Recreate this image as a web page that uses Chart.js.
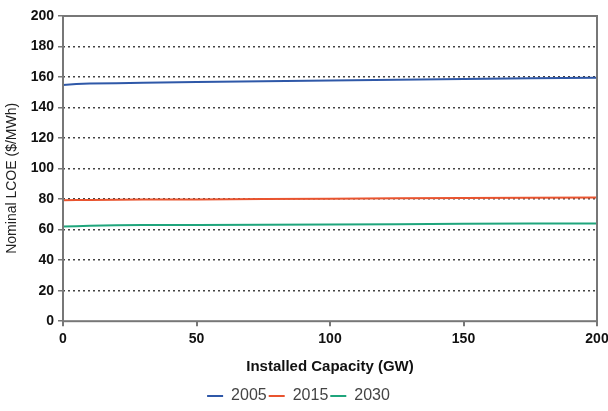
<!DOCTYPE html>
<html>
<head>
<meta charset="utf-8">
<script src="https://cdn.jsdelivr.net/npm/chart.js@4"></script>
<style>
  html, body { margin: 0; padding: 0; background: #fff; }
  #wrap { width: 608px; height: 411px; }
</style>
</head>
<body>
<div id="wrap"><canvas id="lcoe" width="608" height="411"></canvas></div>
<script>
// installed capacity (GW) and nominal LCOE ($/MWh)
const capacity = [0, 5, 10, 20, 30, 50, 75, 100, 125, 150, 175, 200];
const lcoe2005 = [154.8, 155.5, 155.8, 156, 156.3, 156.7, 157.2, 157.7, 158.2, 158.7, 159.2, 159.5];
const lcoe2015 = [79.2, 79.4, 79.5, 79.6, 79.7, 79.8, 80, 80.2, 80.5, 80.7, 80.9, 81];
const lcoe2030 = [62, 62.3, 62.5, 62.8, 63, 63, 63.2, 63.3, 63.5, 63.8, 64, 64];
const seriesNames = ['2005', '2015', '2030'];
const seriesColors = ['#2f58a8', '#e9542f', '#1fa57c'];

const toPts = vals => capacity.map((c, i) => ({ x: c, y: vals[i] }));

// box around the plot area
const frame = {
  id: 'frame',
  afterDraw(chart) {
    const { ctx, chartArea: a } = chart;
    ctx.save();
    ctx.strokeStyle = '#777';
    ctx.lineWidth = 2;
    ctx.strokeRect(a.left, a.top, a.right - a.left, a.bottom - a.top);
    ctx.restore();
  }
};

const tickFont = { family: 'Liberation Sans', size: 14, weight: 'bold' };

new Chart(document.getElementById('lcoe'), {
  type: 'line',
  data: {
    datasets: [lcoe2005, lcoe2015, lcoe2030].map((v, i) => ({
      label: seriesNames[i],
      data: toPts(v),
      borderColor: seriesColors[i],
      backgroundColor: seriesColors[i],
      borderWidth: 2,
      pointRadius: 0,
      tension: 0
    }))
  },
  options: {
    responsive: false,
    animation: false,
    layout: { padding: { top: 16, right: 11, left: 0, bottom: -3 } },
    plugins: {
      legend: {
        position: 'bottom',
        labels: {
          usePointStyle: true,
          pointStyle: 'line',
          pointStyleWidth: 16,
          boxWidth: 16,
          padding: 2,
          color: '#444',
          font: { family: 'Liberation Sans', size: 16 }
        }
      },
      tooltip: { enabled: false }
    },
    scales: {
      x: {
        type: 'linear',
        min: 0,
        max: 200,
        ticks: { stepSize: 50, color: '#111', font: tickFont, padding: 5 },
        grid: { drawOnChartArea: false, drawTicks: true, tickLength: 5, tickColor: '#777', lineWidth: 2 },
        border: { display: false },
        title: {
          display: true,
          text: 'Installed Capacity (GW)',
          color: '#111',
          font: { family: 'Liberation Sans', size: 15, weight: 'bold' },
          padding: { top: 5, bottom: 10 }
        },
        afterFit: s => { s.paddingRight = 0; }
      },
      y: {
        min: 0,
        max: 200,
        ticks: { stepSize: 20, color: '#111', font: tickFont, padding: 4 },
        grid: {
          drawTicks: true,
          tickLength: 5,
          tickColor: '#777',
          tickBorderDash: [],
          lineWidth: 1.5,
          color: ctx => (ctx.tick && (ctx.tick.value === 0 || ctx.tick.value === 200)) ? 'rgba(0,0,0,0)' : '#444'
        },
        border: { display: false, dash: [2, 3] },
        title: {
          display: true,
          text: 'Nominal LCOE ($/MWh)     ',
          color: '#222',
          font: { family: 'Liberation Sans', size: 14 },
          padding: { top: 4, bottom: 2 }
        },
        afterFit: s => { s.width = 63; }
      }
    }
  },
  plugins: [frame]
});
</script>
</body>
</html>
